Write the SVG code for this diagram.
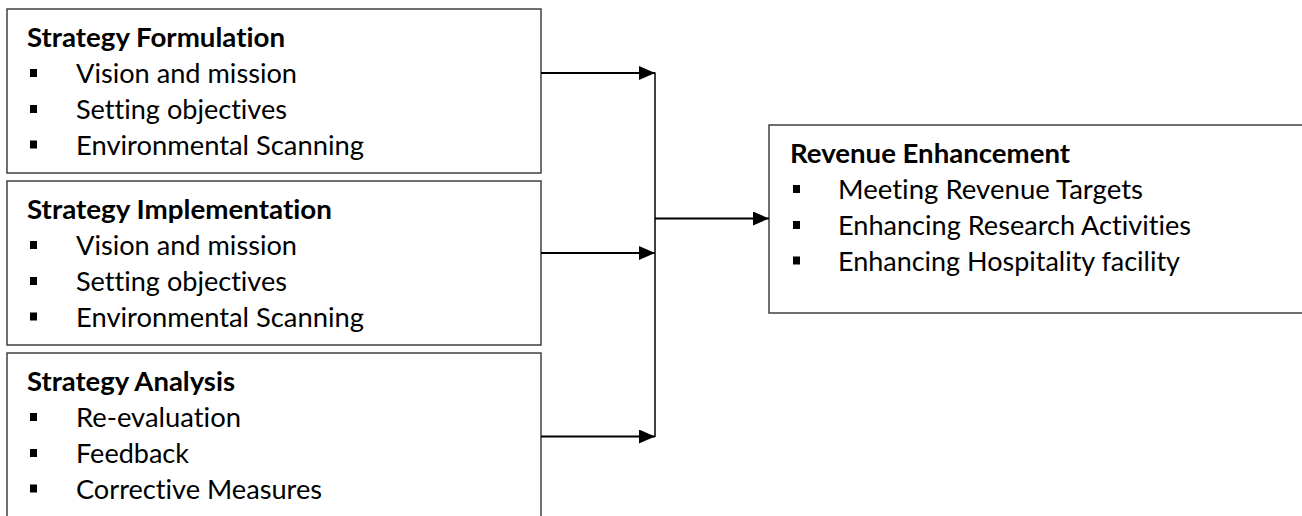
<svg xmlns="http://www.w3.org/2000/svg" width="1302" height="516" viewBox="0 0 1302 516">
<style>
.box{fill:#fff;stroke:#404040;stroke-width:1.5}
.t{font-family:Lato,"Open Sans","Liberation Sans",sans-serif;font-size:26.5px;fill:#000;font-variant-ligatures:none;font-feature-settings:"liga" 0,"dlig" 0}
.b{font-weight:bold}
.bul{fill:#000}
.ln{stroke:#000;stroke-width:2;fill:none}
.vl{stroke:#000;stroke-width:1.5;fill:none}
</style>
<defs>
<marker id="ah" viewBox="0 0 16 14" refX="16" refY="7" markerWidth="16" markerHeight="14" markerUnits="userSpaceOnUse" orient="auto">
<path d="M0,0 L16,7 L0,14 Z" fill="#000"/>
</marker>
</defs>
<g id="node-formulation">
<rect class="box" x="7" y="9" width="534" height="164"/>
<text class="t b" x="27" y="47" textLength="258" lengthAdjust="spacingAndGlyphs">Strategy Formulation</text>
<rect class="bul" x="30" y="69" width="7" height="8"/>
<text class="t" x="76" y="83" textLength="221" lengthAdjust="spacingAndGlyphs">Vision and mission</text>
<rect class="bul" x="30" y="105" width="7" height="8"/>
<text class="t" x="76" y="119" textLength="211" lengthAdjust="spacingAndGlyphs">Setting objectives</text>
<rect class="bul" x="30" y="140.5" width="7" height="8"/>
<text class="t" x="76" y="154.5" textLength="288" lengthAdjust="spacingAndGlyphs">Environmental Scanning</text>
</g>
<g id="node-implementation">
<rect class="box" x="7" y="181" width="534" height="164"/>
<text class="t b" x="27" y="219" textLength="305" lengthAdjust="spacingAndGlyphs">Strategy Implementation</text>
<rect class="bul" x="30" y="241" width="7" height="8"/>
<text class="t" x="76" y="255" textLength="221" lengthAdjust="spacingAndGlyphs">Vision and mission</text>
<rect class="bul" x="30" y="277" width="7" height="8"/>
<text class="t" x="76" y="291" textLength="211" lengthAdjust="spacingAndGlyphs">Setting objectives</text>
<rect class="bul" x="30" y="312.5" width="7" height="8"/>
<text class="t" x="76" y="326.5" textLength="288" lengthAdjust="spacingAndGlyphs">Environmental Scanning</text>
</g>
<g id="node-analysis">
<rect class="box" x="7" y="353" width="534" height="200"/>
<text class="t b" x="27" y="391" textLength="208" lengthAdjust="spacingAndGlyphs">Strategy Analysis</text>
<rect class="bul" x="30" y="413" width="7" height="8"/>
<text class="t" x="76" y="427" textLength="165" lengthAdjust="spacingAndGlyphs">Re-evaluation</text>
<rect class="bul" x="30" y="449" width="7" height="8"/>
<text class="t" x="76" y="463" textLength="113" lengthAdjust="spacingAndGlyphs">Feedback</text>
<rect class="bul" x="30" y="484.5" width="7" height="8"/>
<text class="t" x="76" y="498.5" textLength="246" lengthAdjust="spacingAndGlyphs">Corrective Measures</text>
</g>
<g id="node-revenue">
<rect class="box" x="769" y="125" width="560" height="188"/>
<text class="t b" x="790" y="163" textLength="280" lengthAdjust="spacingAndGlyphs">Revenue Enhancement</text>
<rect class="bul" x="793" y="185" width="7" height="8"/>
<text class="t" x="838" y="199" textLength="305" lengthAdjust="spacingAndGlyphs">Meeting Revenue Targets</text>
<rect class="bul" x="793" y="221" width="7" height="8"/>
<text class="t" x="838" y="235" textLength="353" lengthAdjust="spacingAndGlyphs">Enhancing Research Activities</text>
<rect class="bul" x="793" y="256.5" width="7" height="8"/>
<text class="t" x="838" y="270.5" textLength="342" lengthAdjust="spacingAndGlyphs">Enhancing Hospitality facility</text>
</g>
<g id="connectors">
<line class="vl" x1="655" y1="72.5" x2="655" y2="437"/>
<line class="ln" x1="541" y1="73" x2="655" y2="73" marker-end="url(#ah)"/>
<line class="ln" x1="541" y1="253" x2="655" y2="253" marker-end="url(#ah)"/>
<line class="ln" x1="541" y1="436.5" x2="655" y2="436.5" marker-end="url(#ah)"/>
<line class="ln" x1="655" y1="218.5" x2="769" y2="218.5" marker-end="url(#ah)"/>
</g>
</svg>
